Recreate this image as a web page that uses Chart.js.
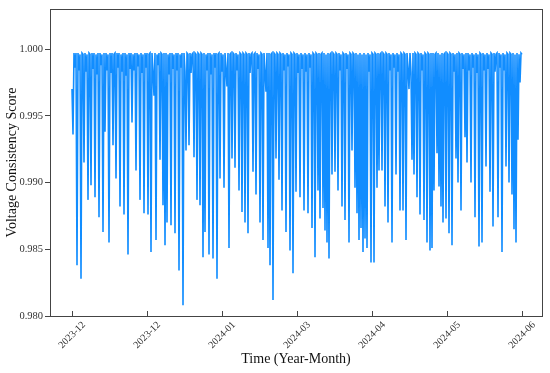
<!DOCTYPE html>
<html>
<head>
<meta charset="utf-8">
<script src="https://cdn.jsdelivr.net/npm/chart.js@4"></script>
<style>
  html, body { margin: 0; padding: 0; background: #fff; }
  #wrap { width: 550px; height: 373px; }
</style>
</head>
<body>
<div id="wrap"><canvas id="lineChart" width="550" height="373"></canvas></div>
<script>
// voltage consistency score, one reading per sample, Dec 2023 -> Jun 2024
const scores = [
  0.9970, 0.9936, 0.9997, 0.9986, 0.9997, 0.9838, 0.9997, 0.9984, 0.9996, 0.9828,
  0.9997, 0.9996, 0.9915, 0.9997, 0.9983, 0.9996, 0.9887, 0.9997, 0.9996, 0.9898,
  0.9997, 0.9985, 0.9997, 0.9889, 0.9996, 0.9981, 0.9997, 0.9874, 0.9997, 0.9988,
  0.9996, 0.9863, 0.9997, 0.9938, 0.9997, 0.9984, 0.9996, 0.9855, 0.9997, 0.9982,
  0.9997, 0.9928, 0.9996, 0.9997, 0.9903, 0.9997, 0.9986, 0.9997, 0.9882, 0.9996,
  0.9983, 0.9997, 0.9876, 0.9997, 0.9980, 0.9996, 0.9846, 0.9997, 0.9985, 0.9997,
  0.9945, 0.9996, 0.9984, 0.9997, 0.9909, 0.9997, 0.9987, 0.9996, 0.9887, 0.9997,
  0.9982, 0.9996, 0.9877, 0.9997, 0.9986, 0.9997, 0.9876, 0.9996, 0.9997, 0.9848,
  0.9997, 0.9983, 0.9965, 0.9997, 0.9857, 0.9996, 0.9988, 0.9997, 0.9917, 0.9997,
  0.9996, 0.9883, 0.9997, 0.9853, 0.9997, 0.9870, 0.9996, 0.9981, 0.9997, 0.9868,
  0.9997, 0.9985, 0.9996, 0.9862, 0.9997, 0.9984, 0.9997, 0.9834, 0.9996, 0.9986,
  0.9997, 0.9808, 0.9997, 0.9983, 0.9924, 0.9997, 0.9996, 0.9928, 0.9997, 0.9982,
  0.9996, 0.9997, 0.9919, 0.9997, 0.9996, 0.9887, 0.9997, 0.9996, 0.9883, 0.9997,
  0.9996, 0.9844, 0.9997, 0.9863, 0.9996, 0.9984, 0.9997, 0.9846, 0.9997, 0.9981,
  0.9996, 0.9843, 0.9997, 0.9986, 0.9997, 0.9828, 0.9996, 0.9997, 0.9903, 0.9997,
  0.9983, 0.9996, 0.9896, 0.9997, 0.9985, 0.9972, 0.9997, 0.9851, 0.9996, 0.9997,
  0.9918, 0.9997, 0.9996, 0.9911, 0.9997, 0.9984, 0.9996, 0.9894, 0.9997, 0.9996,
  0.9878, 0.9997, 0.9996, 0.9870, 0.9997, 0.9996, 0.9862, 0.9997, 0.9982, 0.9996,
  0.9997, 0.9908, 0.9996, 0.9997, 0.9891, 0.9997, 0.9985, 0.9996, 0.9870, 0.9997,
  0.9996, 0.9857, 0.9997, 0.9983, 0.9968, 0.9997, 0.9851, 0.9997, 0.9838, 0.9996,
  0.9997, 0.9812, 0.9997, 0.9996, 0.9918, 0.9997, 0.9996, 0.9902, 0.9997, 0.9996,
  0.9879, 0.9997, 0.9984, 0.9996, 0.9863, 0.9997, 0.9987, 0.9996, 0.9849, 0.9997,
  0.9996, 0.9832, 0.9997, 0.9996, 0.9893, 0.9997, 0.9982, 0.9996, 0.9889, 0.9997,
  0.9985, 0.9996, 0.9879, 0.9997, 0.9983, 0.9996, 0.9877, 0.9997, 0.9986, 0.9996,
  0.9866, 0.9997, 0.9996, 0.9844, 0.9997, 0.9996, 0.9894, 0.9997, 0.9873, 0.9996,
  0.9997, 0.9881, 0.9997, 0.9864, 0.9996, 0.9855, 0.9997, 0.9843, 0.9996, 0.9997,
  0.9906, 0.9997, 0.9996, 0.9908, 0.9997, 0.9996, 0.9894, 0.9997, 0.9984, 0.9996,
  0.9882, 0.9997, 0.9996, 0.9872, 0.9997, 0.9985, 0.9996, 0.9855, 0.9997, 0.9996,
  0.9924, 0.9997, 0.9996, 0.9896, 0.9997, 0.9877, 0.9996, 0.9857, 0.9997, 0.9866,
  0.9996, 0.9848, 0.9997, 0.9858, 0.9996, 0.9851, 0.9997, 0.9983, 0.9996, 0.9840,
  0.9997, 0.9996, 0.9840, 0.9997, 0.9996, 0.9896, 0.9997, 0.9909, 0.9996, 0.9997,
  0.9909, 0.9997, 0.9996, 0.9882, 0.9997, 0.9996, 0.9870, 0.9997, 0.9984, 0.9996,
  0.9855, 0.9997, 0.9986, 0.9996, 0.9906, 0.9997, 0.9983, 0.9996, 0.9879, 0.9997,
  0.9996, 0.9879, 0.9997, 0.9996, 0.9857, 0.9997, 0.9985, 0.9970, 0.9997, 0.9982,
  0.9917, 0.9997, 0.9906, 0.9997, 0.9996, 0.9889, 0.9997, 0.9996, 0.9876, 0.9997,
  0.9984, 0.9996, 0.9872, 0.9997, 0.9996, 0.9855, 0.9997, 0.9996, 0.9849, 0.9997,
  0.9851, 0.9997, 0.9894, 0.9996, 0.9997, 0.9922, 0.9997, 0.9897, 0.9996, 0.9882,
  0.9997, 0.9870, 0.9996, 0.9997, 0.9873, 0.9997, 0.9996, 0.9862, 0.9997, 0.9996,
  0.9853, 0.9997, 0.9983, 0.9996, 0.9918, 0.9997, 0.9900, 0.9997, 0.9996, 0.9879,
  0.9997, 0.9985, 0.9996, 0.9934, 0.9997, 0.9915, 0.9997, 0.9984, 0.9996, 0.9900,
  0.9997, 0.9986, 0.9996, 0.9874, 0.9997, 0.9982, 0.9996, 0.9852, 0.9997, 0.9996,
  0.9855, 0.9997, 0.9984, 0.9996, 0.9912, 0.9997, 0.9985, 0.9996, 0.9893, 0.9997,
  0.9996, 0.9867, 0.9997, 0.9983, 0.9996, 0.9997, 0.9874, 0.9997, 0.9986, 0.9996,
  0.9848, 0.9997, 0.9984, 0.9996, 0.9912, 0.9997, 0.9996, 0.9900, 0.9997, 0.9996,
  0.9891, 0.9997, 0.9865, 0.9996, 0.9855, 0.9997, 0.9932, 0.9996, 0.9975, 0.9997,
  0.9996
];

// x tick positions (sample index) and their labels as printed on the chart
const tickIndex = [0, 75, 150, 225, 300, 375, 450];
const tickLabels = ['2023-12', '2023-12', '2024-01', '2024-03', '2024-04', '2024-05', '2024-06'];
const yTicks = [0.980, 0.985, 0.990, 0.995, 1.000];

const serif = "'Liberation Serif', 'Times New Roman', serif";
const axisColor = '#444';

// matplotlib-like frame + inward x ticks
const framePlugin = {
    id: 'frame',
    afterDraw(chart) {
        const { ctx, chartArea: a, scales } = chart;
        ctx.save();
        ctx.strokeStyle = axisColor;
        ctx.lineWidth = 1;
        ctx.strokeRect(Math.round(a.left) + 0.5, Math.round(a.top) + 0.5,
            Math.round(a.right - a.left), Math.round(a.bottom - a.top));
        ctx.beginPath();
        tickIndex.forEach(v => {
            const x = Math.round(scales.x.getPixelForValue(v)) + 0.5;
            ctx.moveTo(x, a.bottom);
            ctx.lineTo(x, a.bottom - 5);
        });
        ctx.stroke();
        ctx.restore();
    }
};

const ctx = document.getElementById('lineChart');

const myChart = new Chart(ctx, {
    type: 'line',
    data: {
        datasets: [{
            data: scores.map((v, i) => ({ x: i, y: v })),
            borderColor: '#118dff',
            borderWidth: 1.6,
            pointRadius: 0,
            fill: false,
            tension: 0,
        }],
    },
    options: {
        responsive: false,
        animation: false,
        layout: { padding: { top: 9, right: 8, left: 0, bottom: 0 } },
        plugins: { legend: { display: false }, tooltip: { enabled: false } },
        scales: {
            x: {
                type: 'linear',
                min: -22,
                max: 470,
                afterBuildTicks: s => { s.ticks = tickIndex.map(v => ({ value: v })); },
                afterFit: s => { s.height = 57; },
                grid: { display: false },
                border: { display: false },
                ticks: {
                    autoSkip: false,
                    minRotation: 45,
                    maxRotation: 45,
                    padding: -5,
                    labelOffset: 12,
                    color: '#333',
                    font: { family: serif, size: 10 },
                    callback: (v, i) => tickLabels[i],
                },
                title: {
                    display: true,
                    text: 'Time (Year-Month)',
                    color: '#111',
                    font: { family: serif, size: 14 },
                    padding: { top: 0, bottom: 5 },
                },
            },
            y: {
                min: 0.980,
                max: 1.003,
                afterBuildTicks: s => { s.ticks = yTicks.map(v => ({ value: v })); },
                afterFit: s => { s.width = 50; },
                grid: { drawOnChartArea: false, drawTicks: true, tickLength: 5, color: axisColor },
                border: { display: false },
                ticks: {
                    padding: 2,
                    color: '#333',
                    font: { family: serif, size: 10.5 },
                    callback: v => v.toFixed(3),
                },
                title: {
                    display: true,
                    text: 'Voltage Consistency Score',
                    color: '#111',
                    font: { family: serif, size: 14 },
                    padding: { top: 4, bottom: 0 },
                },
            },
        },
    },
    plugins: [framePlugin],
});
</script>
</body>
</html>
